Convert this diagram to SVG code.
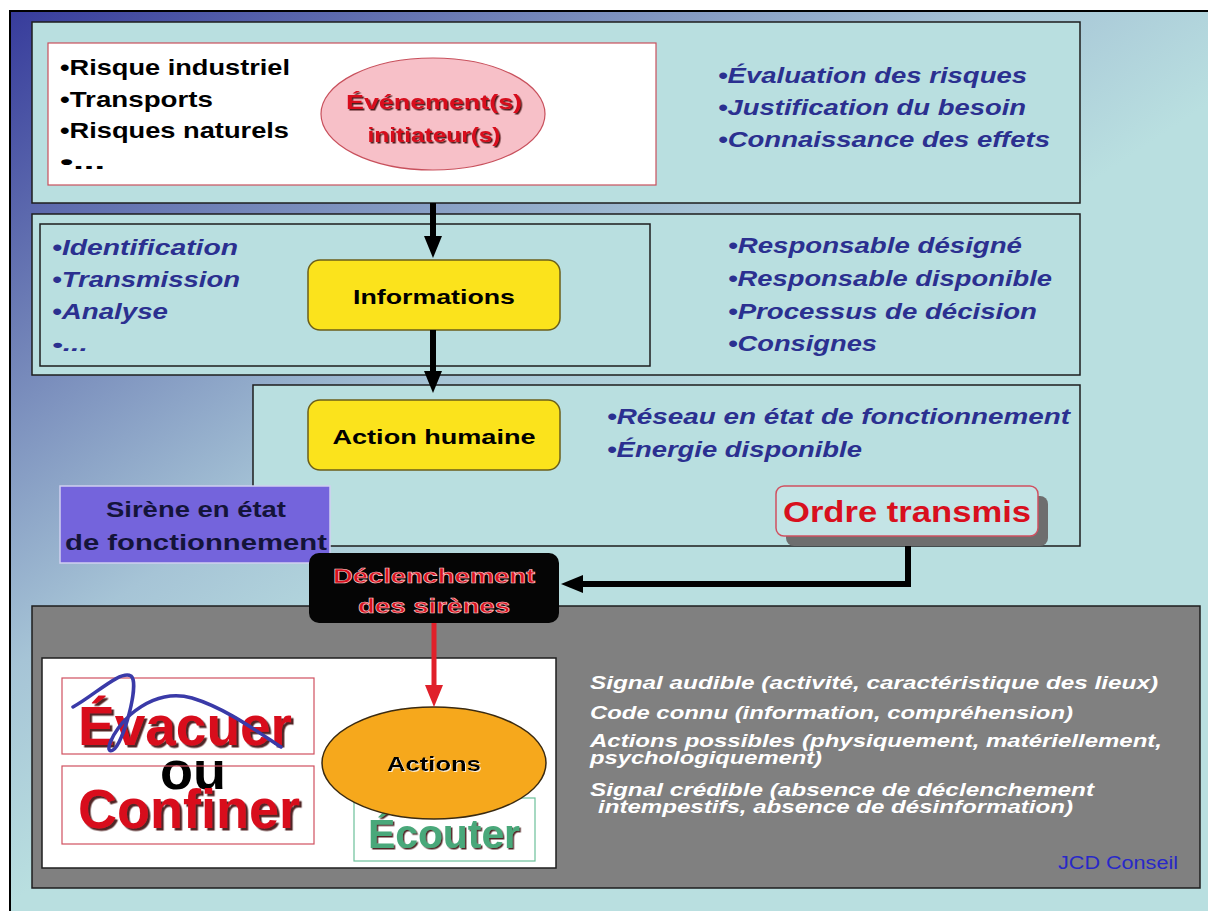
<svg xmlns="http://www.w3.org/2000/svg" width="1208" height="911" viewBox="0 0 1208 911">
<defs>
<linearGradient id="bg" gradientUnits="userSpaceOnUse" x1="0" y1="0" x2="600" y2="900">
<stop offset="0" stop-color="#34389a"/>
<stop offset="0.28" stop-color="#7284b8"/>
<stop offset="0.52" stop-color="#a6c4d6"/>
<stop offset="0.7" stop-color="#b9dfe0"/>
<stop offset="1" stop-color="#b9dfe0"/>
</linearGradient>
<filter id="shd" x="-10%" y="-20%" width="130%" height="150%"><feDropShadow dx="1.5" dy="1.5" stdDeviation="0.4" flood-color="#300000" flood-opacity="0.85"/></filter>
<filter id="shdBig" x="-10%" y="-20%" width="130%" height="150%"><feDropShadow dx="2.5" dy="2.5" stdDeviation="0.6" flood-color="#300000" flood-opacity="0.85"/></filter>
<filter id="shdLight" x="-10%" y="-20%" width="130%" height="150%"><feDropShadow dx="1" dy="1" stdDeviation="0.3" flood-color="#ffffff" flood-opacity="0.8"/></filter>
<marker id="ahB" viewBox="0 0 22 18" refX="2" refY="9" markerWidth="22" markerHeight="18" markerUnits="userSpaceOnUse" orient="auto"><path d="M0,0 L22,9 L0,18 z" fill="#000"/></marker>
<marker id="ahR" viewBox="0 0 22 18" refX="2" refY="9" markerWidth="22" markerHeight="18" markerUnits="userSpaceOnUse" orient="auto"><path d="M0,0 L22,9 L0,18 z" fill="#e0202a"/></marker>
<style>
.panel{fill:#b9dfe0;stroke:#1e1e1e;stroke-width:1.5}
.yel{fill:#fbe31c;stroke:#6b5f1a;stroke-width:1.5}
.blk{font-family:"Liberation Sans",Arial,sans-serif;font-weight:bold;font-size:22px;fill:#000}
.blue{font-family:"Liberation Sans",Arial,sans-serif;font-weight:bold;font-style:italic;font-size:22px;fill:#2b3090}
.wht{font-family:"Liberation Sans",Arial,sans-serif;font-weight:bold;font-style:italic;font-size:18px;fill:#ffffff}
.red{font-family:"Liberation Sans",Arial,sans-serif;font-weight:bold;fill:#d8101e}
.ctr{text-anchor:middle}
.conn{fill:none;stroke:#000;stroke-width:6}
</style>
</defs>

<rect x="0" y="0" width="1208" height="911" fill="#ffffff"/>
<rect x="10" y="11" width="1200" height="902" fill="url(#bg)"/>
<path d="M10,911 L10,11 L1208,11" fill="none" stroke="#000" stroke-width="2"/>

<g id="panel-evenement">
<rect class="panel" x="32" y="22" width="1048" height="181"/>
<rect x="48" y="43" width="608" height="142" fill="#ffffff" stroke="#c8505c" stroke-width="1.2"/>
<text class="blk" x="60" y="75" textLength="230" lengthAdjust="spacingAndGlyphs">•Risque industriel</text>
<text class="blk" x="60" y="107" textLength="153" lengthAdjust="spacingAndGlyphs">•Transports</text>
<text class="blk" x="60" y="138" textLength="229" lengthAdjust="spacingAndGlyphs">•Risques naturels</text>
<text class="blk" x="60" y="169" textLength="45" lengthAdjust="spacingAndGlyphs" style="font-size:20px">•...</text>
<text class="blue" x="718" y="83" textLength="309" lengthAdjust="spacingAndGlyphs">•Évaluation des risques</text>
<text class="blue" x="718" y="115" textLength="308" lengthAdjust="spacingAndGlyphs">•Justification du besoin</text>
<text class="blue" x="718" y="147" textLength="332" lengthAdjust="spacingAndGlyphs">•Connaissance des effets</text>
</g>

<g id="node-evenement">
<ellipse cx="433" cy="114" rx="112" ry="56" fill="#f7c0c8" stroke="#c8505c" stroke-width="1.2"/>
<text class="red ctr" x="434" y="109" font-size="21" textLength="176" lengthAdjust="spacingAndGlyphs" filter="url(#shd)">Événement(s)</text>
<text class="red ctr" x="434" y="142" font-size="21" textLength="133" lengthAdjust="spacingAndGlyphs" filter="url(#shd)">initiateur(s)</text>
</g>

<g id="panel-informations">
<rect class="panel" x="32" y="214" width="1048" height="161"/>
<rect class="panel" x="40" y="224" width="610" height="142" stroke-width="1"/>
<text class="blue" x="52" y="255" textLength="186" lengthAdjust="spacingAndGlyphs">•Identification</text>
<text class="blue" x="52" y="287" textLength="188" lengthAdjust="spacingAndGlyphs">•Transmission</text>
<text class="blue" x="52" y="319" textLength="116" lengthAdjust="spacingAndGlyphs">•Analyse</text>
<text class="blue" x="52" y="351" textLength="36" lengthAdjust="spacingAndGlyphs" style="font-size:18px">•...</text>
<text class="blue" x="728" y="253" textLength="294" lengthAdjust="spacingAndGlyphs">•Responsable désigné</text>
<text class="blue" x="728" y="286" textLength="324" lengthAdjust="spacingAndGlyphs">•Responsable disponible</text>
<text class="blue" x="728" y="319" textLength="309" lengthAdjust="spacingAndGlyphs">•Processus de décision</text>
<text class="blue" x="728" y="351" textLength="149" lengthAdjust="spacingAndGlyphs">•Consignes</text>
</g>

<g id="node-informations">
<rect class="yel" x="308" y="260" width="252" height="70" rx="12"/>
<text class="blk ctr" x="434" y="304" textLength="162" lengthAdjust="spacingAndGlyphs" style="font-size:21px">Informations</text>
</g>

<g id="panel-action">
<rect class="panel" x="253" y="385" width="827" height="161"/>
<text class="blue" x="607" y="424" textLength="463" lengthAdjust="spacingAndGlyphs">•Réseau en état de fonctionnement</text>
<text class="blue" x="607" y="457" textLength="255" lengthAdjust="spacingAndGlyphs">•Énergie disponible</text>
</g>

<g id="node-action-humaine">
<rect class="yel" x="308" y="400" width="252" height="70" rx="12"/>
<text class="blk ctr" x="434" y="444" textLength="203" lengthAdjust="spacingAndGlyphs" style="font-size:21px">Action humaine</text>
</g>

<g id="node-ordre-transmis">
<rect x="786" y="496" width="262" height="50" rx="8" fill="#6e6e6e"/>
<rect x="776" y="486" width="262" height="50" rx="8" fill="#c4e4e6" stroke="#d05060" stroke-width="1.5"/>
<text class="red ctr" x="907" y="522" font-size="29" textLength="248" lengthAdjust="spacingAndGlyphs" fill="#e0101c">Ordre transmis</text>
</g>

<g id="node-sirene">
<rect x="60" y="486" width="270" height="77" fill="#7464dc" stroke="#d0d0f0" stroke-width="1.5"/>
<text class="blk ctr" x="196" y="517" textLength="180" lengthAdjust="spacingAndGlyphs" style="fill:#14143a">Sirène en état</text>
<text class="blk ctr" x="196" y="550" textLength="262" lengthAdjust="spacingAndGlyphs" style="fill:#14143a">de fonctionnement</text>
</g>

<g id="panel-actions">
<rect x="32" y="606" width="1168" height="282" fill="#808080" stroke="#1e1e1e" stroke-width="1.5"/>
<rect x="42" y="658" width="514" height="210" fill="#ffffff" stroke="#1e1e1e" stroke-width="1.5"/>
<text class="wht" x="590" y="689" textLength="568" lengthAdjust="spacingAndGlyphs">Signal audible (activité, caractéristique des lieux)</text>
<text class="wht" x="590" y="719" textLength="483" lengthAdjust="spacingAndGlyphs">Code connu (information, compréhension)</text>
<text class="wht" x="590" y="747" textLength="572" lengthAdjust="spacingAndGlyphs">Actions possibles (physiquement, matériellement,</text>
<text class="wht" x="590" y="764" textLength="232" lengthAdjust="spacingAndGlyphs">psychologiquement)</text>
<text class="wht" x="590" y="796" textLength="504" lengthAdjust="spacingAndGlyphs">Signal crédible (absence de déclenchement</text>
<text class="wht" x="598" y="813" textLength="475" lengthAdjust="spacingAndGlyphs">intempestifs, absence de désinformation)</text>
<text x="1178" y="869" text-anchor="end" font-family="Liberation Sans, Arial, sans-serif" font-size="18" fill="#2828c8" textLength="120" lengthAdjust="spacingAndGlyphs">JCD Conseil</text>
</g>

<g id="node-evacuer">
<rect x="62" y="678" width="252" height="76" fill="none" stroke="#d05060" stroke-width="1.2"/>
<text class="red" x="78" y="745" font-size="56" textLength="214" lengthAdjust="spacingAndGlyphs" fill="#e0141e" filter="url(#shdBig)">Évacuer</text>
<path d="M73,707 C95,695 120,670 131,676 C140,683 123,745 113,750 C104,755 110,734 130,715 C150,698 170,692 192,698 C225,708 255,730 281,747" fill="none" stroke="#3a3aa8" stroke-width="3.5" stroke-linecap="round"/>
</g>

<g id="node-ou">
<text class="blk ctr" x="193" y="789" style="font-size:54px">ou</text>
</g>

<g id="node-confiner">
<rect x="62" y="766" width="252" height="78" fill="none" stroke="#d05060" stroke-width="1.2"/>
<text class="red" x="78" y="828" font-size="56" textLength="222" lengthAdjust="spacingAndGlyphs" fill="#e0141e" filter="url(#shdBig)">Confiner</text>
</g>

<g id="node-ecouter">
<rect x="354" y="798" width="181" height="63" fill="#ffffff" stroke="#6cc09a" stroke-width="1.2"/>
<text x="444" y="848" text-anchor="middle" font-family="Liberation Sans, Arial, sans-serif" font-weight="bold" font-size="41" fill="#4aa87a" textLength="152" lengthAdjust="spacingAndGlyphs" filter="url(#shd)">Écouter</text>
</g>

<g id="node-actions">
<ellipse cx="434" cy="763" rx="112" ry="56" fill="#f6a81c" stroke="#3a2a10" stroke-width="1.5"/>
<text class="blk ctr" x="434" y="771" textLength="94" lengthAdjust="spacingAndGlyphs" filter="url(#shdLight)" style="font-size:21px">Actions</text>
</g>

<g id="node-declenchement">
<rect x="309" y="553" width="250" height="70" rx="10" fill="#050505"/>
<text class="red ctr" x="434" y="583" font-size="21" textLength="202" lengthAdjust="spacingAndGlyphs" fill="#e81c28" stroke="#ffd0d0" stroke-width="0.6">Déclenchement</text>
<text class="red ctr" x="434" y="613" font-size="21" textLength="152" lengthAdjust="spacingAndGlyphs" fill="#e81c28" stroke="#ffd0d0" stroke-width="0.6">des sirènes</text>
</g>

<g id="connectors">
<line class="conn" x1="433" y1="203" x2="433" y2="238" stroke-width="5" marker-end="url(#ahB)"/>
<line class="conn" x1="433" y1="330" x2="433" y2="373" stroke-width="5" marker-end="url(#ahB)"/>
<path class="conn" d="M908,546 L908,584 L581,584" marker-end="url(#ahB)"/>
<line x1="434" y1="623" x2="434" y2="687" stroke="#e0202a" stroke-width="5" marker-end="url(#ahR)"/>
</g>
</svg>
